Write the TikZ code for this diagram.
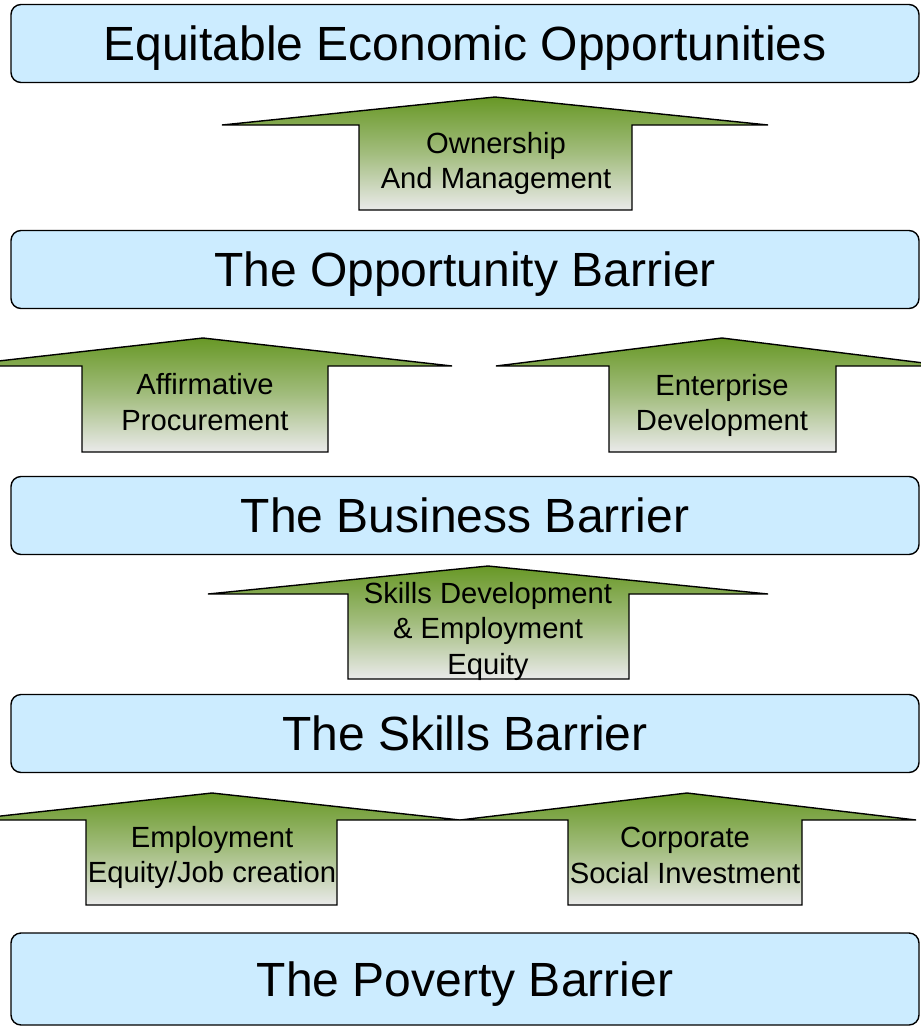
\documentclass[tikz,border=0pt]{standalone}
\usepackage{fontspec}
\setmainfont{Liberation Sans}
\definecolor{barrierblue}{RGB}{204,236,255}
\definecolor{liftgreen}{RGB}{104,152,38}
\definecolor{liftgray}{RGB}{234,234,234}
\tikzset{
  barrier/.style={draw=black,line width=1.4pt,fill=barrierblue,rounded corners=10pt,
    minimum width=908pt,minimum height=78pt,inner sep=0pt,
    text height=34.5pt,text depth=0pt,
    font=\fontsize{48}{58}\selectfont},
  lift/.style={draw=black,line width=1.4pt,top color=liftgreen,bottom color=liftgray,
    middle color=liftgreen!55!liftgray},
  liftlabel/.style={align=center,inner sep=0pt,font=\fontsize{29.2}{35.5}\selectfont}
}
\begin{document}
\begin{tikzpicture}[x=1pt,y=-1pt]
    \useasboundingbox (0,0) rectangle (921,1026);
    \clip (0,0) rectangle (921,1026);

    %Barriers
    \node[barrier] (opportunities) at (465,43.5) {Equitable Economic Opportunities};
    \node[barrier] (opportunity) at (465,269.5) {The Opportunity Barrier};
    \node[barrier] (business) at (465,515.5) {The Business Barrier};
    \node[barrier] (skills) at (465,733.5) {The Skills Barrier};
    \node[barrier,minimum height=92pt] (poverty) at (465,979) {The Poverty Barrier};

    %Arrows
    \draw[lift] (495,97) -- (768,125) -- (632,125) -- (632,210) -- (359,210) -- (359,125) -- (222,125) -- cycle;
    \draw[lift] (203,338) -- (452,366) -- (328,366) -- (328,452) -- (82,452) -- (82,366) -- (-46,366) -- cycle;
    \draw[lift] (722,338) -- (948,366) -- (836,366) -- (836,452) -- (609,452) -- (609,366) -- (496,366) -- cycle;
    \draw[lift] (488,566) -- (768,594) -- (629,594) -- (629,679) -- (348,679) -- (348,594) -- (208,594) -- cycle;
    \draw[lift] (212,793) -- (460,820) -- (337,820) -- (337,905) -- (86,905) -- (86,820) -- (-36,820) -- cycle;
    \draw[lift] (687,793) -- (916,820) -- (802,820) -- (802,905) -- (568,905) -- (568,820) -- (460,820) -- cycle;

    %Labels
    \node[liftlabel] (ownership) at (496,163.5) {Ownership\\And Management};
    \node[liftlabel] (procurement) at (205,402) {Affirmative\\Procurement};
    \node[liftlabel] (enterprise) at (722,405.5) {Enterprise\\Development};
    \node[liftlabel] (skillsdev) at (488,631) {Skills Development\\\& Employment\\Equity};
    \node[liftlabel] (jobs) at (212,857.5) {Employment\\Equity/Job creation};
    \node[liftlabel] (csi) at (685,855.5) {Corporate\\Social Investment};
\end{tikzpicture}
\end{document}
